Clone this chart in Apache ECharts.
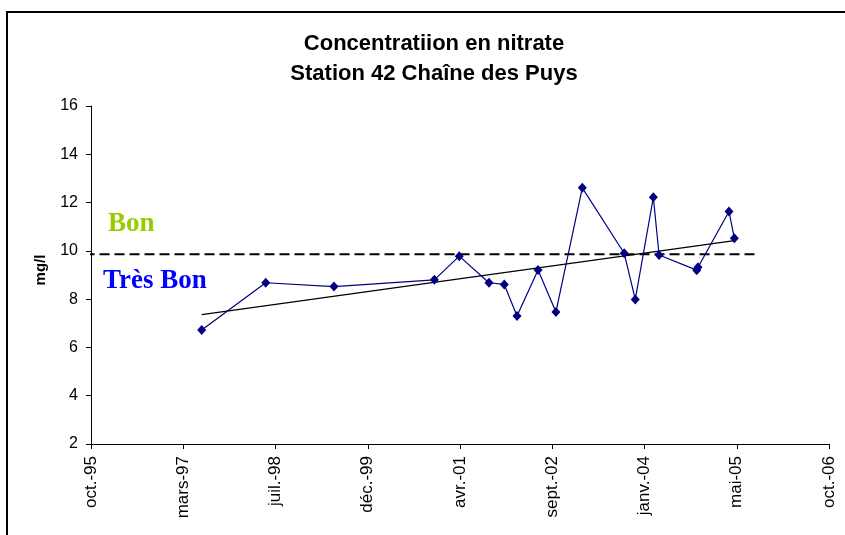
<!DOCTYPE html>
<html>
<head>
<meta charset="utf-8">
<script src="https://cdn.jsdelivr.net/npm/echarts@6/dist/echarts.min.js"></script>
<style>
  html, body { margin: 0; padding: 0; background: #fff; }
  #chart { width: 845px; height: 535px; }
</style>
</head>
<body>
<div id="chart"></div>
<script>
// sampling dates and nitrate values (mg/l)
const sampleDates = [
  '1997-06-19', '1998-06-01', '1999-06-06', '2000-12-01', '2001-04-15',
  '2001-09-23', '2001-12-15', '2002-02-22', '2002-06-16', '2002-09-21',
  '2003-02-11', '2003-09-26', '2003-11-25', '2004-03-02', '2004-04-02',
  '2004-10-23', '2004-10-30', '2005-04-16', '2005-05-15'
]
const nitrate = [
  6.72, 8.68, 8.52, 8.80, 9.78,
  8.68, 8.61, 7.30, 9.21, 7.47,
  12.61, 9.90, 7.99, 12.22, 9.83,
  9.20, 9.32, 11.63, 10.52
]
// linear trend, read at first and last sample
const trendDates = ['1997-06-19', '2005-05-15']
const trendValues = [7.36, 10.42]
// limit "Bon" / "Très Bon"
const limitDates = ['1995-09-23', '2005-09-20']
const limitValues = [9.86, 9.86]

const monthNames = ['janv.', 'févr.', 'mars', 'avr.', 'mai', 'juin', 'juil.', 'août', 'sept.', 'oct.', 'nov.', 'déc.']
const xMin = 35000, xMax = 39000, xStep = 500   // excel day numbers
const yMin = 2, yMax = 16, yStep = 2

const EPOCH = Date.UTC(1899, 11, 30)
function toSerial(s) {
  const p = s.split('-').map(Number)
  return Math.round((Date.UTC(p[0], p[1] - 1, p[2]) - EPOCH) / 86400000)
}
function serialLabel(v) {
  const d = new Date(EPOCH + v * 86400000)
  const yy = String(d.getUTCFullYear() % 100).padStart(2, '0')
  return monthNames[d.getUTCMonth()] + '-' + yy
}
function pairs(dates, vals) {
  return dates.map((d, i) => [toSerial(d), vals[i]])
}

const font = 'Liberation Sans, Arial, sans-serif'
const myChart = echarts.init(document.getElementById('chart'))

const option = {
  animation: false,
  backgroundColor: '#fff',
  grid: { left: 91, right: 16, top: 106, bottom: 91, containLabel: false },
  graphic: [
    {
      type: 'rect', z: -1,
      shape: { x: 7, y: 12, width: 900, height: 600 },
      style: { fill: 'none', stroke: '#000', lineWidth: 2 }
    },
    {
      type: 'text', x: 434, y: 44,
      style: {
        text: 'Concentratiion en nitrate', fill: '#000',
        font: 'bold 22px ' + font, textAlign: 'center', textVerticalAlign: 'middle'
      }
    },
    {
      type: 'text', x: 434, y: 74,
      style: {
        text: 'Station 42 Chaîne des Puys', fill: '#000',
        font: 'bold 22px ' + font, textAlign: 'center', textVerticalAlign: 'middle'
      }
    },
    {
      type: 'text', x: 41, y: 270, rotation: Math.PI / 2,
      style: {
        text: 'mg/l', fill: '#000',
        font: 'bold 15px ' + font, textAlign: 'center', textVerticalAlign: 'middle'
      }
    },
    {
      type: 'text', x: 108, y: 224,
      style: {
        text: 'Bon', fill: '#99CC00',
        font: 'bold 27px "Liberation Serif", "Times New Roman", serif', textVerticalAlign: 'middle'
      }
    },
    {
      type: 'text', x: 103, y: 281,
      style: {
        text: 'Très Bon', fill: '#0000FF',
        font: 'bold 27px "Liberation Serif", "Times New Roman", serif', textVerticalAlign: 'middle'
      }
    }
  ],
  xAxis: {
    type: 'value',
    min: xMin, max: xMax, interval: xStep,
    axisLine: { lineStyle: { color: '#000', width: 1 } },
    axisTick: { show: true, length: 5, lineStyle: { color: '#000' } },
    splitLine: { show: false },
    axisLabel: {
      rotate: 90, margin: 12, color: '#000',
      fontFamily: font, fontSize: 17,
      formatter: serialLabel
    }
  },
  yAxis: {
    type: 'value',
    min: yMin, max: yMax, interval: yStep,
    axisLine: { show: true, lineStyle: { color: '#000', width: 1 } },
    axisTick: { show: true, length: 5, lineStyle: { color: '#000' } },
    splitLine: { show: false },
    axisLabel: { margin: 13, color: '#000', fontFamily: font, fontSize: 16 }
  },
  series: [
    {
      name: 'limite',
      type: 'line',
      data: pairs(limitDates, limitValues),
      symbol: 'none',
      clip: false,
      lineStyle: { color: '#000', width: 2, type: [10, 5] },
      z: 1
    },
    {
      name: 'tendance',
      type: 'line',
      data: pairs(trendDates, trendValues),
      symbol: 'none',
      lineStyle: { color: '#000', width: 1.2 },
      z: 2
    },
    {
      name: 'nitrate',
      type: 'line',
      data: pairs(sampleDates, nitrate),
      symbol: 'diamond',
      symbolSize: [9, 10],
      itemStyle: { color: '#000080' },
      lineStyle: { color: '#000080', width: 1.2 },
      z: 3
    }
  ]
}
myChart.setOption(option)
</script>
</body>
</html>
